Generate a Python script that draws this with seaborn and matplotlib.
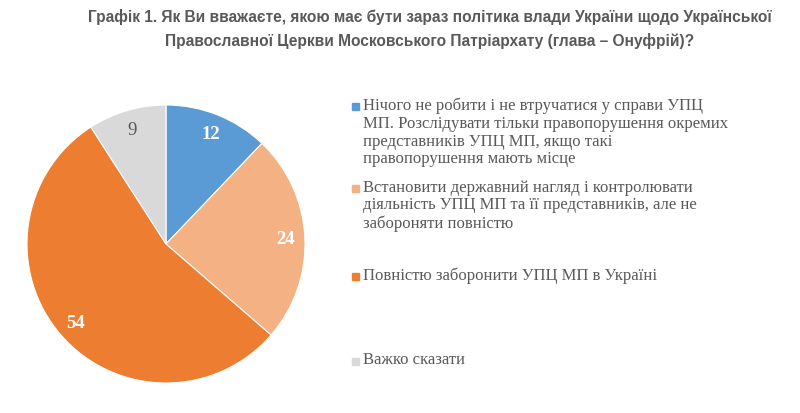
import matplotlib
matplotlib.use("Agg")
import matplotlib.pyplot as plt
import matplotlib.patches as mpatches
import seaborn as sns

# Дані
categories = [
    "Нічого не робити і не втручатися у справи УПЦ\nМП. Розслідувати тільки правопорушення окремих\nпредставників УПЦ МП, якщо такі\nправопорушення мають місце",
    "Встановити державний нагляд і контролювати\nдіяльність УПЦ МП та її представників, але не\nзабороняти повністю",
    "Повністю заборонити УПЦ МП в Україні",
    "Важко сказати",
]
values = [12, 24, 54, 9]
colors = ["#5B9BD5", "#F4B183", "#ED7D31", "#D9D9D9"]
label_colors = ["white", "white", "white", "#595959"]
label_weights = ["bold", "bold", "bold", "normal"]

title = ("Графік 1. Як Ви вважаєте, якою має бути зараз політика влади України щодо Української\n"
         "Православної Церкви Московського Патріархату (глава – Онуфрій)?")

sns.set_style("white")
plt.rcParams["font.family"] = ["Liberation Serif", "DejaVu Serif"]

fig = plt.figure(figsize=(8, 4.14), dpi=100)

# Діаграма
ax = fig.add_axes([27 / 800, 30 / 414, 278 / 800, 278 / 414])
wedges, texts = ax.pie(
    values,
    labels=[str(v) for v in values],
    colors=colors,
    startangle=90,
    counterclock=False,
    labeldistance=0.86,
    wedgeprops=dict(edgecolor="white", linewidth=0.8),
)
for t, c, w in zip(texts, label_colors, label_weights):
    t.set_color(c)
    t.set_fontweight(w)
    t.set_fontsize(13.5)
    t.set_ha("center")
    t.set_va("center")
ax.set_xlim(-1, 1)
ax.set_ylim(-1, 1)
ax.set_aspect("equal")
ax.axis("off")

# Легенда
legend_y = [107, 189, 277, 362]
for lab, col, y in zip(categories, colors, legend_y):
    fy = 1 - y / 414
    fig.patches.append(mpatches.Rectangle((352 / 800, fy - 4 / 414), 7 / 800, 7 / 414,
                                          transform=fig.transFigure, color=col))
    fig.text(363 / 800, fy + 9.5 / 414, lab, ha="left", va="top", fontsize=12,
             color="#595959", linespacing=1.15)

# Заголовок
fig.text(0.537, 1 - 29 / 414, title, ha="center", va="center", fontsize=11.2,
         fontweight="bold", color="#595959", linespacing=1.6,
         family=["Liberation Sans", "DejaVu Sans"])

fig.savefig("out.png", dpi=100, facecolor="white")
